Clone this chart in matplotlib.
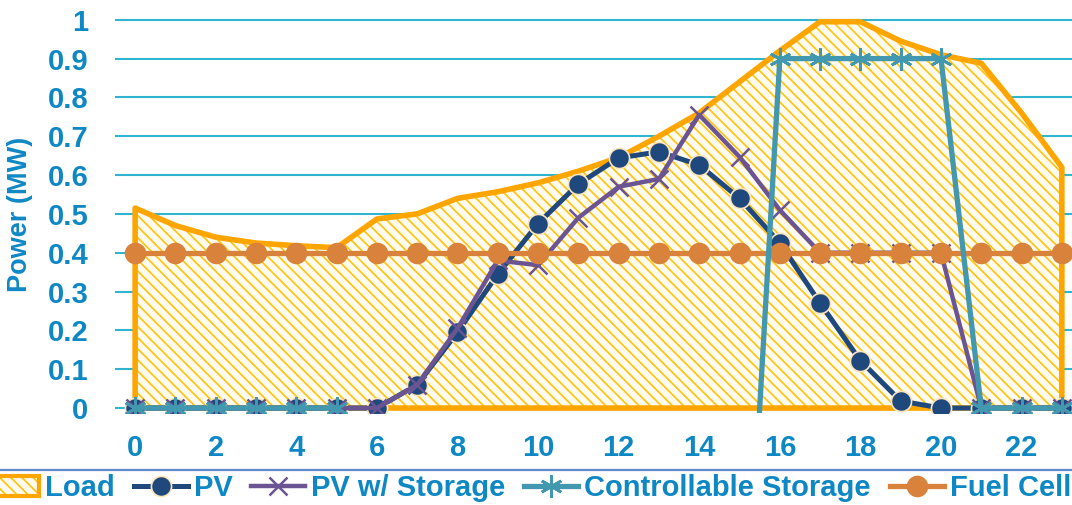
import numpy as np
import matplotlib
matplotlib.use("Agg")
import matplotlib.pyplot as plt
from matplotlib.patches import Patch
from matplotlib.lines import Line2D
from matplotlib.legend_handler import HandlerTuple

plt.rcParams['font.family'] = ['Liberation Sans', 'DejaVu Sans']
plt.rcParams['font.weight'] = 'bold'
plt.rcParams['hatch.linewidth'] = 1.25

# hourly data (MW)
hours = list(range(24))
load = [0.515, 0.47, 0.44, 0.425, 0.418, 0.413, 0.487, 0.50, 0.54, 0.557, 0.58, 0.61,
        0.645, 0.70, 0.76, 0.84, 0.92, 0.995, 0.995, 0.945, 0.91, 0.888, 0.76, 0.62]
pv = [0, 0, 0, 0, 0, 0, 0, 0.06, 0.195, 0.345, 0.475, 0.577,
      0.644, 0.66, 0.626, 0.54, 0.425, 0.27, 0.122, 0.018, 0, 0, 0, 0]
pv_storage = [0, 0, 0, 0, 0, 0, 0, 0.06, 0.205, 0.38, 0.368, 0.49,
              0.57, 0.59, 0.755, 0.647, 0.51, 0.4, 0.4, 0.4, 0.4, 0, 0, 0]
# negative values = charging (below the visible range)
storage = [0, 0, 0, 0, 0, 0, -0.45, -0.45, -0.45, -0.45, -0.45, -0.45,
           -0.45, -0.45, -0.45, -0.9, 0.9, 0.9, 0.9, 0.9, 0.9, 0, 0, 0]
fuel_cell = [0.4] * 24

xticks = list(range(0, 23, 2))
yticks = [0, 0.1, 0.2, 0.3, 0.4, 0.5, 0.6, 0.7, 0.8, 0.9, 1]

TXT = '#0E88C4'
GRID = '#2FB5CF'
LOAD_EDGE = '#FFA500'
LOAD_HATCH = '#FFC414'
LOAD_FACE = '#FFFBEF'
PV_C = '#1F497D'
PVS_C = '#6A5491'
ST_C = '#4298AE'
FC_C = '#D9823B'
HATCH = '\\\\\\'

W, H = 1072, 505
fig = plt.figure(figsize=(W / 100, H / 100), dpi=100)
ax = fig.add_axes([115 / W, 1 - 412.7 / H, 967 / W, 400.7 / H])

ax.set_xlim(-0.5, 23.5)
ax.set_ylim(-0.012, 1.02)

# load area
ax.fill_between(hours, load, 0, facecolor=LOAD_FACE, edgecolor=LOAD_HATCH,
                hatch=HATCH, linewidth=0, zorder=2)
ax.plot([hours[0]] + hours + [hours[-1], hours[0]], [0] + load + [0, 0],
        color=LOAD_EDGE, lw=4, solid_joinstyle='round', zorder=3)

ax.plot(hours, pv, color=PV_C, lw=3.6, marker='o', ms=14.5,
        mfc=PV_C, mec='#FCE4BC', mew=1.2, solid_joinstyle='round', zorder=4)
ax.plot(hours, pv_storage, color=PVS_C, lw=3.2, marker='x', ms=13,
        mew=1.8, solid_joinstyle='round', zorder=5)
ax.plot(hours, fuel_cell, color=FC_C, lw=3.8, marker='o', ms=14.5,
        mfc=FC_C, mec=FC_C, zorder=6)
ax.plot(hours, storage, color=ST_C, lw=3.8, marker=(6, 2, 0), ms=16,
        mew=2, solid_joinstyle='round', zorder=7)

ax.set_yticks(yticks)
ax.set_yticklabels([f"{v:g}" for v in yticks])
ax.set_xticks(xticks)
ax.tick_params(axis='both', length=0, labelsize=21, labelcolor=TXT)
ax.tick_params(axis='y', pad=19)
ax.tick_params(axis='x', pad=15)
for lab in ax.get_xticklabels() + ax.get_yticklabels():
    lab.set_fontweight('bold')

ax.grid(axis='y', color=GRID, lw=1.5, zorder=1)
ax.set_axisbelow(True)
for s in ax.spines.values():
    s.set_visible(False)

fig.text(20 / W, 1 - 214 / H, 'Power (MW)', rotation=90, ha='center',
         va='center', fontsize=19.5, fontweight='bold', color=TXT)

# legend
fig.add_artist(Line2D([0, 1], [1 - 470 / H] * 2, color='#5F8DCB', lw=1.6,
                      transform=fig.transFigure))
load_h = (Patch(facecolor=LOAD_FACE, edgecolor=LOAD_HATCH, hatch=HATCH, lw=0),
          Patch(facecolor='none', edgecolor=LOAD_EDGE, lw=3))
handles = [
    load_h,
    Line2D([], [], color=PV_C, lw=3.6, marker='o', ms=14.5, mfc=PV_C, mec='#FCE4BC', mew=1.2),
    Line2D([], [], color=PVS_C, lw=3.2, marker='x', ms=13, mew=1.8),
    Line2D([], [], color=ST_C, lw=3.8, marker=(6, 2, 0), ms=16, mew=2),
    Line2D([], [], color=FC_C, lw=3.8, marker='o', ms=14.5, mfc=FC_C, mec=FC_C),
]
labels = ['Load', 'PV', 'PV w/ Storage', 'Controllable Storage', 'Fuel Cell']
fig.legend(handles, labels, loc='center', bbox_to_anchor=(0.4927, 1 - 488 / H),
           ncol=5, frameon=False, handlelength=1.85, handletextpad=0.2,
           columnspacing=0.65, labelcolor=TXT,
           prop={'size': 21, 'weight': 'bold'},
           handler_map={tuple: HandlerTuple(ndivide=1)})

fig.savefig('out.png', dpi=100)
